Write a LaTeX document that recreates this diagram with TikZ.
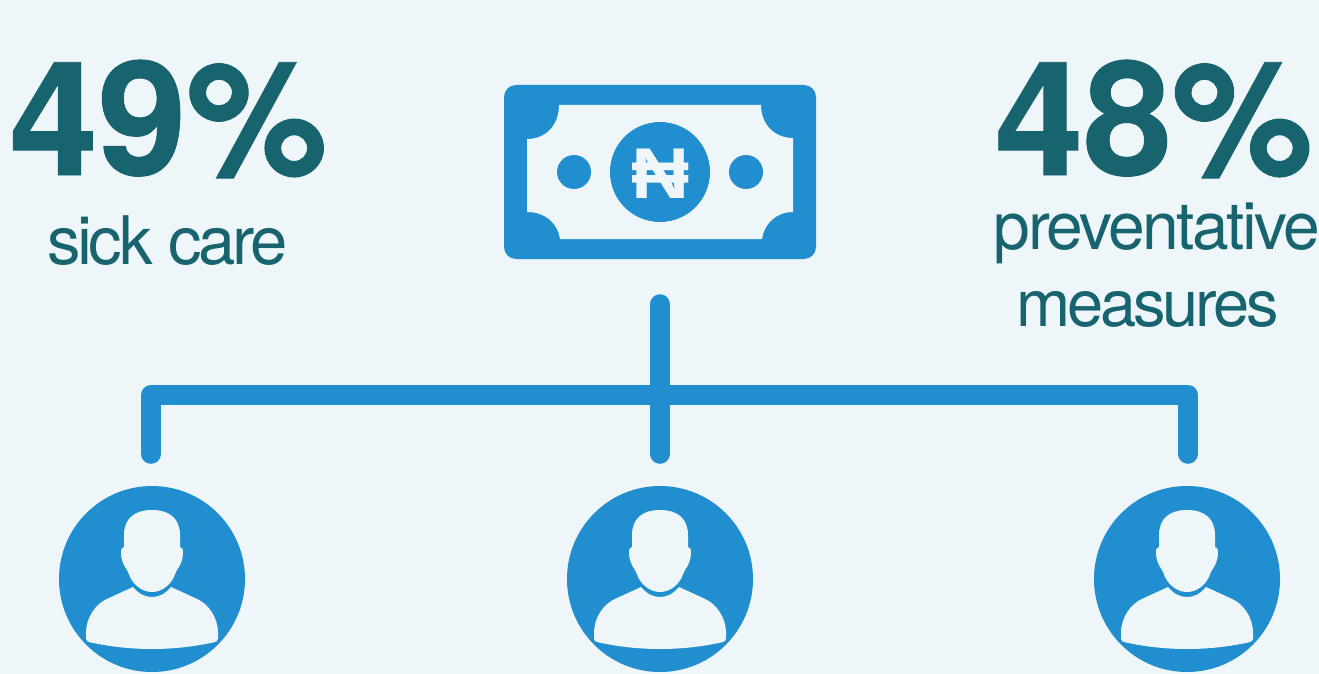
\documentclass[tikz,border=0pt]{standalone}
\usepackage{fontspec}
\setmainfont{TeX Gyre Heros}
\newfontfamily\pctfont[FakeBold=0.6]{TeX Gyre Heros Bold}
\newfontfamily\capfont[LetterSpace=-5]{TeX Gyre Heros}
\newfontfamily\widecapfont[LetterSpace=-4]{TeX Gyre Heros}
\newfontfamily\nairafont{Liberation Sans}
\definecolor{bgc}{HTML}{EEF6FA}
\definecolor{bluec}{HTML}{218ECF}
\definecolor{tealc}{HTML}{17646F}
\tikzset{
  bigpct/.style={anchor=base,inner sep=0pt,text=tealc,font=\pctfont\fontsize{159}{159}\selectfont},
  caption/.style={anchor=base,inner sep=0pt,text=tealc,font=\capfont\fontsize{65}{65}\selectfont},
  avatar/.style={circle,fill=bluec,minimum size=186pt,inner sep=0pt},
  dot/.style={circle,fill=bluec,inner sep=0pt},
  link/.style={draw=bluec,line width=20pt,line cap=round,line join=round},
  person/.pic={
    \fill[bgc] (0,-69) .. controls (-18,-69) and (-28,-60) .. (-28,-44)
      -- (-28,-32) .. controls (-31,-32) and (-31,-29) .. (-31,-26)
      .. controls (-31,-19) and (-28,-13) .. (-25,-9)
      .. controls (-23,-6) and (-23,-4) .. (-22,-2)
      .. controls (-18,6) and (-10,13) .. (0,13)
      .. controls (10,13) and (18,6) .. (22,-2)
      .. controls (23,-4) and (23,-6) .. (25,-9)
      .. controls (28,-13) and (31,-19) .. (31,-26)
      .. controls (31,-29) and (31,-32) .. (28,-32)
      -- (28,-44) .. controls (28,-60) and (18,-69) .. (0,-69) -- cycle;
    \fill[bgc] (-19,8) .. controls (-13,15) and (-7,18) .. (0,18)
      .. controls (7,18) and (13,15) .. (19,8)
      -- (43,19) .. controls (56,24) and (66,38) .. (66,54)
      -- (66,60) .. controls (66,62) and (64,63) .. (61,63.5)
      .. controls (40,68) and (20,70) .. (0,70)
      .. controls (-20,70) and (-40,68) .. (-61,63.5)
      .. controls (-64,63) and (-66,62) .. (-66,60)
      -- (-66,54) .. controls (-66,38) and (-56,24) .. (-43,19) -- cycle;
  }
}
\begin{document}
\begin{tikzpicture}[x=1pt,y=-1pt]
\fill[bgc] (0,0) rectangle (1319,674);
\useasboundingbox (0,0) rectangle (1319,674);
% banknote
\node[fill=bluec,rounded corners=12pt,minimum width=312pt,minimum height=174pt,inner sep=0pt] (bill) at (660,172) {};
\fill[bgc] (559,105) -- (761,105)
  .. controls (761,125) and (775,138) .. (793,138) -- (793,212)
  .. controls (776,212) and (764,224) .. (762,239) -- (560,239)
  .. controls (558,224) and (546,212) .. (527,212) -- (527,139)
  .. controls (546,139) and (559,125) .. (559,105) -- cycle;
\node[dot,minimum size=100pt] (coin) at (660,172) {};
\node[dot,minimum size=34pt] (dotl) at (574,172) {};
\node[dot,minimum size=34pt] (dotr) at (746,172) {};
\node[inner sep=0pt,text=bgc,font=\nairafont\bfseries\fontsize{72}{72}\selectfont,xscale=1.12,transform shape] (naira) at (661,174) {₦};
% percentages
\node[bigpct] (left) at (168.5,175) {49\%};
\node[bigpct] (right) at (1154,175) {48\%};
\node[caption,font=\capfont\fontsize{67}{67}\selectfont] (sick) at (167.5,264) {sick care};
\node[caption,font=\widecapfont\fontsize{66}{66}\selectfont] (prev) at (1157,249) {preventative};
\node[caption] (meas) at (1147.5,326) {measures};
% people
\node[avatar] (p1) at (152,579) {};
\node[avatar] (p2) at (660,579) {};
\node[avatar] (p3) at (1187,579) {};
\pic at (p1.center) {person};
\pic at (p2.center) {person};
\pic at (p3.center) {person};
% connectors
\coordinate (hub) at (660,395);
\draw[link,shorten <=45pt,shorten >=32pt] (bill.south) -- (p2.north);
\draw[link,shorten <=32pt,shorten >=32pt] ([xshift=-1pt]p1.north) |- (hub) -| ([xshift=1pt]p3.north);
\end{tikzpicture}
\end{document}
